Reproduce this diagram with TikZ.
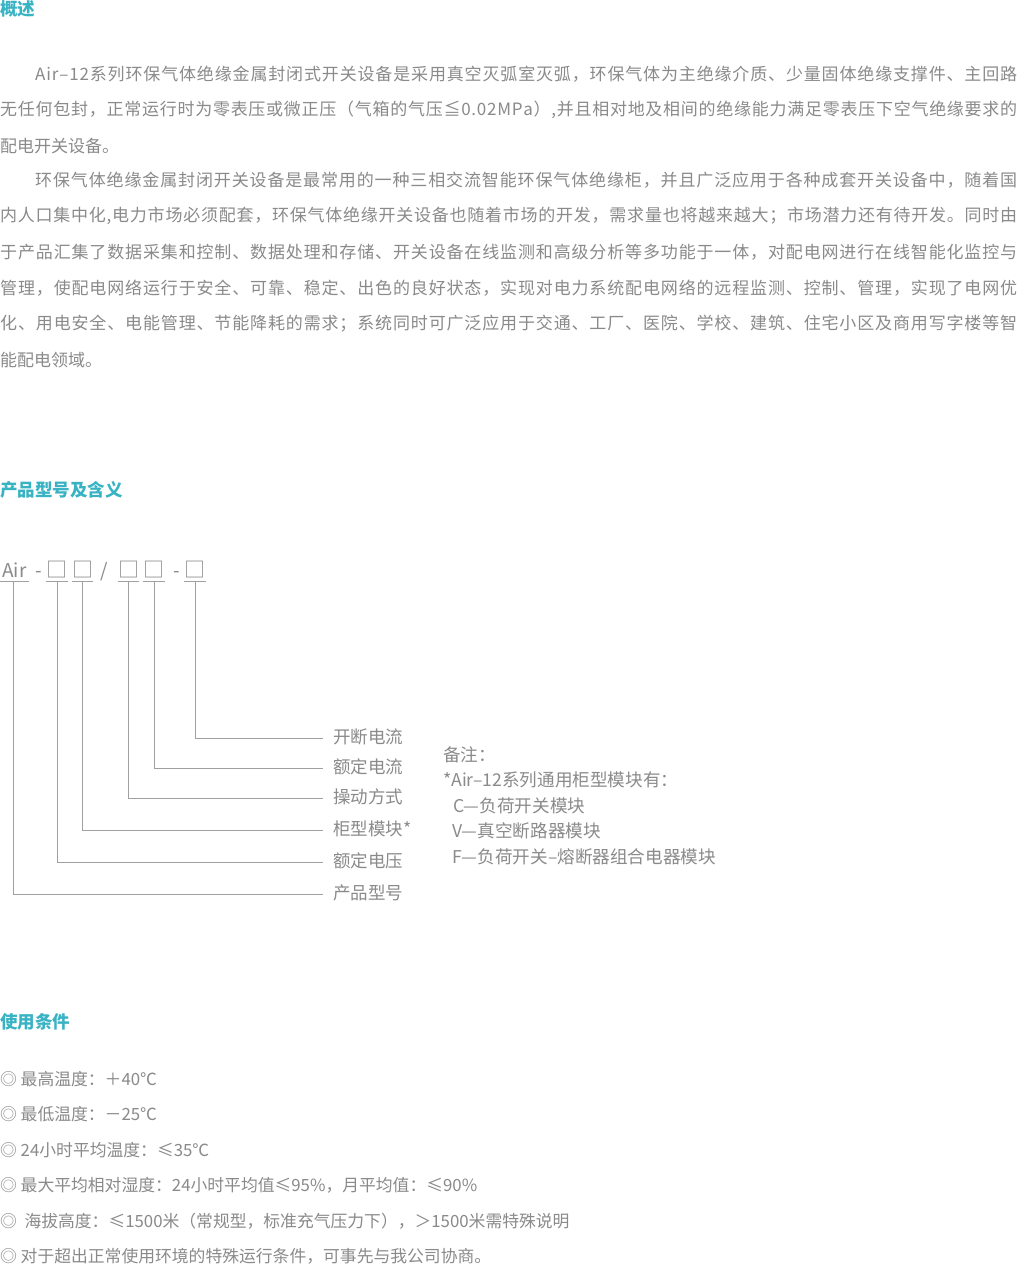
\documentclass[tikz,border=0pt]{standalone}
\usepackage{fontspec}
\setmainfont{Noto Sans CJK SC}
\definecolor{tgray}{HTML}{8A8A8A}
\definecolor{lgray}{HTML}{A0A0A0}
\definecolor{tealhead}{HTML}{38B3C4}
\def\jfirst#1{#1\jnext}
\def\jnext#1{\ifx\relax#1\else\hfil#1\expandafter\jnext\fi}
\newcommand\fullline[1]{\hbox to 1017pt{\jfirst#1\relax}}
\newcommand\indline[1]{\hbox to 1017pt{\kern35pt\jfirst#1\relax}}
\tikzset{
  txt/.style={inner sep=0pt, anchor=west, text=tgray, font=\fontsize{17pt}{20pt}\selectfont},
  head/.style={inner sep=0pt, anchor=west, text=tealhead, font=\bfseries\fontsize{17.5pt}{20pt}\selectfont},
  cond/.style={txt, font=\fontsize{16.8pt}{20pt}\selectfont},
  lbl/.style={txt, font=\fontsize{17.5pt}{20pt}\selectfont},
  note/.style={txt, font=\fontsize{17.6pt}{20pt}\selectfont},
  code/.style={inner sep=0pt, anchor=base, text=tgray, font=\fontsize{19pt}{22pt}\selectfont},
  codebox/.style={code, minimum width=14pt, font=\fontsize{21pt}{24pt}\selectfont},
  conn/.style={draw=lgray, line width=1pt}
}
\begin{document}
\begin{tikzpicture}[x=1pt,y=-1pt]
\path[use as bounding box, fill=white] (0,0) rectangle (1017,1266);

% heading 1
\node[head] (h1) at (0,8.5) {概述};
\node[txt] (p1a) at (0,74) {\indline{Air–12系列环保气体绝缘金属封闭式开关设备是采用真空灭弧室灭弧，环保气体为主绝缘介质、少量固体绝缘支撑件、主回路}};
\node[txt] (p1b) at (0,110) {\fullline{无任何包封，正常运行时为零表压或微正压（气箱的气压≦0.02MPa）,并且相对地及相间的绝缘能力满足零表压下空气绝缘要求的}};
\node[txt] (p1c) at (0,146) {配电开关设备。};
\node[txt] (p2a) at (0,180) {\indline{环保气体绝缘金属封闭开关设备是最常用的一种三相交流智能环保气体绝缘柜，并且广泛应用于各种成套开关设备中，随着国}};
\node[txt] (p2b) at (0,216) {\fullline{内人口集中化,电力市场必须配套，环保气体绝缘开关设备也随着市场的开发，需求量也将越来越大；市场潜力还有待开发。同时由}};
\node[txt] (p2c) at (0,252) {\fullline{于产品汇集了数据采集和控制、数据处理和存储、开关设备在线监测和高级分析等多功能于一体，对配电网进行在线智能化监控与}};
\node[txt] (p2d) at (0,288) {\fullline{管理，使配电网络运行于安全、可靠、稳定、出色的良好状态，实现对电力系统配电网络的远程监测、控制、管理，实现了电网优}};
\node[txt] (p2e) at (0,324) {\fullline{化、用电安全、电能管理、节能降耗的需求；系统同时可广泛应用于交通、工厂、医院、学校、建筑、住宅小区及商用写字楼等智}};
\node[txt] (p2f) at (0,360) {能配电领域。};

% heading 2
\node[head] (h2) at (0,490) {产品型号及含义};

% code line
\node[code, minimum width=29pt] (air) at (14.5,577) {Air};
\node[code] (d1) at (38.5,577) {-};
\node[codebox] (b1) at (57,577) {□};
\node[codebox] (b2) at (82.5,577) {□};
\node[code] (sl) at (104,577) {/};
\node[codebox] (b3) at (128.5,577) {□};
\node[codebox] (b4) at (154,577) {□};
\node[code] (d2) at (176.5,577) {-};
\node[codebox] (b5) at (195,577) {□};

% labels
\node[lbl] (l1) at (333,736.5) {开断电流};
\node[lbl] (l2) at (333,766.5) {额定电流};
\node[lbl] (l3) at (333,796.5) {操动方式};
\node[lbl] (l4) at (333,828.5) {柜型模块*};
\node[lbl] (l5) at (333,860.5) {额定电压};
\node[lbl] (l6) at (333,892.5) {产品型号};

% underlines
\foreach \n in {air,b1,b2,b3,b4,b5}
  \draw[conn] ([yshift=-4pt]\n.base west) -- ([yshift=-4pt]\n.base east);

% connectors
\draw[conn] ([yshift=-4pt]b5.base) |- ([xshift=-10pt,yshift=-1.5pt]l1.west);
\draw[conn] ([yshift=-4pt]b4.base) |- ([xshift=-10pt,yshift=-1.5pt]l2.west);
\draw[conn] ([yshift=-4pt]b3.base) |- ([xshift=-10pt,yshift=-1.5pt]l3.west);
\draw[conn] ([yshift=-4pt]b2.base) |- ([xshift=-10pt,yshift=-1.5pt]l4.west);
\draw[conn] ([yshift=-4pt]b1.base) |- ([xshift=-10pt,yshift=-1.5pt]l5.west);
\draw[conn] ([xshift=-1.5pt,yshift=-4pt]air.base) |- ([xshift=-10pt,yshift=-1.5pt]l6.west);

% notes
\node[note] (n0) at (443,755) {备注：};
\node[note] (n1) at (443,780) {*Air–12系列通用柜型模块有：};
\node[note] (n2) at (453,806) {C—负荷开关模块};
\node[note] (n3) at (452,831) {V—真空断路器模块};
\node[note] (n4) at (452,857) {F—负荷开关–熔断器组合电器模块};

% heading 3
\node[head] (h3) at (0,1022) {使用条件};
\node[cond] (c1) at (0,1079) {◎ 最高温度：＋40℃};
\node[cond] (c2) at (0,1114.5) {◎ 最低温度：－25℃};
\node[cond] (c3) at (0,1150) {◎ 24小时平均温度：≤35℃};
\node[cond] (c4) at (0,1185) {◎ 最大平均相对湿度：24小时平均值≤95\%，月平均值：≤90\%};
\node[cond] (c5) at (0,1221) {◎ \ 海拔高度：≤1500米（常规型，标准充气压力下），＞1500米需特殊说明};
\node[cond] (c6) at (0,1256) {◎ 对于超出正常使用环境的特殊运行条件，可事先与我公司协商。};
\end{tikzpicture}
\end{document}
